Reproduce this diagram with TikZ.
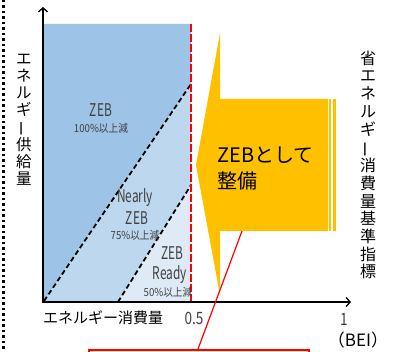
\documentclass[tikz,border=0pt]{standalone}
\usepackage{fontspec}
\setmainfont{Noto Sans CJK JP}
\usetikzlibrary{arrows.meta}
\definecolor{zebdark}{HTML}{9DC3E6}
\definecolor{zebmid}{HTML}{BDD7EE}
\definecolor{zeblight}{HTML}{DEEBF7}
\definecolor{callout}{HTML}{FFC000}
\definecolor{boxfill}{HTML}{FFF2CC}
\definecolor{lbl}{HTML}{404040}
\definecolor{redline}{HTML}{FF0000}
\tikzset{
  axisline/.style={line width=1.8pt, -{Straight Barb[length=4pt,width=9pt,line width=1.3pt]}},
  bound/.style={line width=1.8pt, dash pattern=on 5pt off 3pt},
  zebtxt/.style={text=lbl, inner sep=0pt, font=\fontsize{17.5}{17.5}\selectfont},
  pcttxt/.style={text=lbl, inner sep=0pt, font=\fontsize{11}{11}\selectfont},
  vlabel/.style={inner sep=0pt, align=center},
  axtxt/.style={inner sep=0pt, font=\fontsize{15}{15}\selectfont},
}
\newcommand\nar[1]{\scalebox{0.68}[1]{#1}}
\newcommand\narp[1]{\scalebox{0.88}[1]{#1}}
\newcommand\vbar{\rotatebox[origin=c]{90}{ー}}
\begin{document}
\begin{tikzpicture}[x=1pt,y=-1pt]
\useasboundingbox (0,0) rectangle (399,352);
\clip (0,0) rectangle (399,352);
% left dotted border
\draw[line width=2.4pt, dash pattern=on 2.4pt off 3.1pt] (3.5,0) -- (3.5,352);
% regions
\coordinate (o) at (43,302);
\coordinate (tl) at (43,24);
\coordinate (tr) at (191,24);
\coordinate (br) at (191,302);
\coordinate (a1) at (191,84);
\coordinate (b2) at (118,302);
\coordinate (a2) at (191,185);
\fill[zebdark] (tl) -- (tr) -- (a1) -- (o) -- cycle;
\fill[zebmid] (o) -- (a1) -- (a2) -- (b2) -- cycle;
\fill[zeblight] (b2) -- (a2) -- (br) -- cycle;
% dashed boundaries
\draw[bound] (44,301) -- (a1);
\draw[bound] (b2) -- (a2);
\draw[redline, line width=1.8pt, dash pattern=on 8pt off 2pt] (tr) -- (br);
% axes
\coordinate (ytip) at (43,7);
\coordinate (xtip) at (351,302);
\draw[axisline] (43,303) -- (ytip);
\draw[axisline] (42,302) -- (xtip);
% region labels
\node[zebtxt] (z1) at (101,110) {\nar{ZEB}};
\node[pcttxt] (p1) at (101,128) {\narp{100\%以上減}};
\node[zebtxt] (n2) at (135,198) {\nar{Nearly}};
\node[zebtxt] (z2) at (137,218) {\nar{ZEB}};
\node[pcttxt] (p2) at (135,235) {\narp{75\%以上減}};
\node[zebtxt] (z3) at (172,253) {\nar{ZEB}};
\node[zebtxt] (r3) at (170,275) {\nar{Ready}};
\node[pcttxt] (p3) at (168,292) {\narp{50\%以上減}};
% axis labels
\node[vlabel, font=\fontsize{15.5}{17}\selectfont] (ylab) at (24,120)
  {エ\\ネ\\ル\\ギ\\\vbar\\供\\給\\量};
\node[vlabel, font=\fontsize{16}{17.7}\selectfont] (rlab) at (368,165)
  {省\\エ\\ネ\\ル\\ギ\\\vbar\\消\\費\\量\\基\\準\\指\\標};
\node[axtxt, anchor=west] (xlab) at (43,318) {エネルギー消費量};
\node[axtxt, text=lbl, font=\fontsize{17}{17}\selectfont] (half) at (194,318) {\scalebox{0.8}[1]{0.5}};
\node[axtxt, text=lbl, font=\fontsize{17}{17}\selectfont] (one) at (344,319) {\scalebox{0.8}[1]{1}};
\node[axtxt, font=\fontsize{17}{17}\selectfont] (bei) at (358,340) {（BEI）};
% callout
\fill[callout] (220,33) -- (220,99) -- (328,99) -- (328,231) -- (220,231) -- (220,295) -- (196,165) -- cycle;
\fill[callout] (329.3,99) rectangle (331.2,231);
\fill[callout] (333.4,99) rectangle (335.6,231);
\node[inner sep=0pt, anchor=west, font=\fontsize{20}{20}\selectfont] (ct1) at (217,155) {ZEBとして};
\node[inner sep=0pt, anchor=west, font=\fontsize{20}{20}\selectfont] (ct2) at (217,181) {整備};
\coordinate (cbot) at (242,231);
% bottom box
\node[draw=redline, line width=1.6pt, fill=boxfill, minimum width=220pt, minimum height=30pt, inner sep=0pt, anchor=north west] (box) at (88,349) {};
\coordinate (btop) at (198,349);
\draw[redline, line width=1.2pt] (btop) -- (cbot);
\end{tikzpicture}
\end{document}
